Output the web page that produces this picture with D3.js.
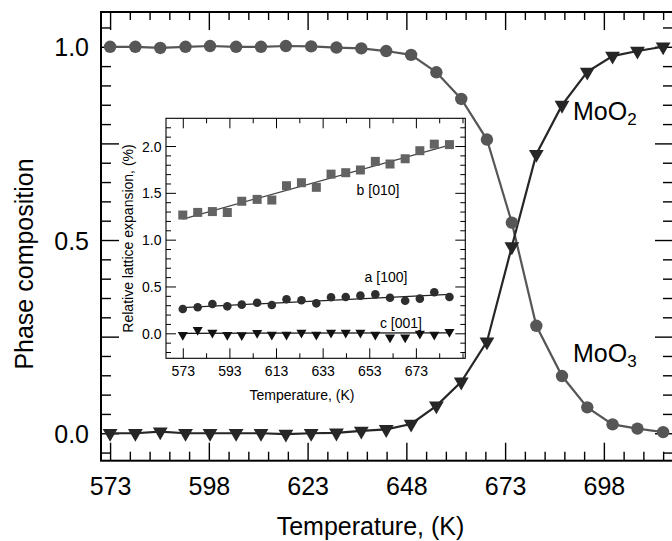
<!DOCTYPE html>
<html>
<head>
<meta charset="utf-8">
<script src="https://cdn.jsdelivr.net/npm/d3@7"></script>
<style>
  html, body { margin: 0; padding: 0; background: #fff; }
  svg { display: block; font-family: "Liberation Sans", Arial, Helvetica, sans-serif; }
</style>
</head>
<body>
<svg id="chart" width="672" height="541"></svg>
<script>
// ---------- data ----------
const temps = [573.0, 579.4, 585.7, 592.1, 598.3, 604.9, 611.2, 617.5, 623.9, 630.3, 636.6, 642.9,
               649.2, 655.6, 661.9, 668.4, 674.7, 680.9, 687.4, 693.8, 700.2, 706.5, 713.0];
const moo3 = [1.0, 1.0, 0.997, 1.0, 1.002, 1.0, 1.0, 1.002, 1.001, 0.998, 0.996, 0.989,
              0.979, 0.934, 0.865, 0.760, 0.545, 0.278, 0.148, 0.067, 0.023, 0.012, 0.003];
const moo2 = [0.0, 0.0, 0.004, 0.0, 0.0, 0.0, 0.0, -0.002, 0.0, 0.001, 0.006, 0.010,
              0.024, 0.071, 0.133, 0.237, 0.483, 0.722, 0.849, 0.935, 0.976, 0.989, 1.0];

const insetTemps = [573.0, 579.4, 585.7, 592.1, 598.3, 604.9, 611.2, 617.5, 623.9, 630.3,
                    636.6, 642.9, 649.2, 655.6, 661.9, 668.4, 674.7, 680.9, 687.4];
const bExp = [1.263, 1.291, 1.300, 1.290, 1.410, 1.430, 1.423, 1.576, 1.608, 1.559,
              1.700, 1.715, 1.744, 1.836, 1.808, 1.864, 1.950, 2.020, 2.015];
const aExp = [0.260, 0.278, 0.313, 0.288, 0.306, 0.327, 0.302, 0.363, 0.353, 0.320,
              0.385, 0.388, 0.402, 0.416, 0.380, 0.348, 0.370, 0.438, 0.388];
const cExp = [-0.018, 0.036, 0.007, -0.018, -0.021, 0.004, -0.014, -0.014, 0.007, -0.014,
              0.007, 0.007, 0.007, -0.014, -0.043, -0.043, -0.004, -0.014, 0.014];
const fitT = [573.0, 687.4];
const bFit = [1.22, 2.01];
const aFit = [0.275, 0.415];
const cFit = [0.0, 0.005];

const mainXTicks = [573, 598, 623, 648, 673, 698];
const mainYLabels = [0.0, 0.5, 1.0];
const insetXTicks = [573, 593, 613, 633, 653, 673];
const insetYTicks = [0.0, 0.5, 1.0, 1.5, 2.0];

// ---------- layout ----------
const svg = d3.select("#chart");
const M = { left: 101, right: 673, top: 12, bottom: 460.7 };
const x = d3.scaleLinear().domain([570.7, 715.5]).range([M.left, M.right]);
const y = d3.scaleLinear().domain([-0.071, 1.09]).range([M.bottom, M.top]);

const FS = 25;
const axisCol = "#000";

function range(a, b, s) { const r = []; for (let v = a; v <= b + 1e-9; v += s) r.push(+v.toFixed(4)); return r; }

const xMinor = range(573, 713, 5).filter(v => !mainXTicks.includes(v));
const yMajor = [0, 0.25, 0.5, 0.75, 1.0];
const yMinor = range(-0.05, 1.05, 0.05).filter(v => !yMajor.some(m => Math.abs(m - v) < 1e-6));

function styleAxis(g) {
  g.select(".domain").remove();
  g.selectAll(".tick line").attr("stroke", axisCol).attr("stroke-width", 1.4);
  g.selectAll("text").attr("fill", "#000");
}

const gb = svg.append("g").attr("transform", `translate(0,${M.bottom})`)
  .call(d3.axisBottom(x).tickValues(mainXTicks).tickSize(-18).tickFormat(d3.format("d")));
styleAxis(gb);
gb.selectAll("text").attr("y", 34.3).attr("dy", 0).attr("font-size", FS);
styleAxis(svg.append("g").attr("transform", `translate(0,${M.bottom})`)
  .call(d3.axisBottom(x).tickValues(xMinor).tickSize(-9).tickFormat("")));

styleAxis(svg.append("g").attr("transform", `translate(0,${M.top})`)
  .call(d3.axisTop(x).tickValues(mainXTicks).tickSize(-18).tickFormat("")));
styleAxis(svg.append("g").attr("transform", `translate(0,${M.top})`)
  .call(d3.axisTop(x).tickValues(xMinor).tickSize(-8).tickFormat("")));

const gl = svg.append("g").attr("transform", `translate(${M.left},0)`)
  .call(d3.axisLeft(y).tickValues(yMajor).tickSize(-18).tickPadding(12)
    .tickFormat(d => mainYLabels.includes(d) ? d3.format(".1f")(d) : ""));
styleAxis(gl);
gl.selectAll("text").attr("font-size", FS).attr("dy", "0.36em");
styleAxis(svg.append("g").attr("transform", `translate(${M.left},0)`)
  .call(d3.axisLeft(y).tickValues(yMinor).tickSize(-10).tickFormat("")));

styleAxis(svg.append("g").attr("transform", `translate(${M.right},0)`)
  .call(d3.axisRight(y).tickValues(yMajor).tickSize(-18).tickFormat("")));
styleAxis(svg.append("g").attr("transform", `translate(${M.right},0)`)
  .call(d3.axisRight(y).tickValues(yMinor).tickSize(-10).tickFormat("")));

svg.append("rect").attr("x", M.left).attr("y", M.top)
  .attr("width", M.right - M.left).attr("height", M.bottom - M.top)
  .attr("fill", "none").attr("stroke", "#000").attr("stroke-width", 2);

svg.append("text").attr("x", 370.5).attr("y", 535).attr("text-anchor", "middle")
  .attr("font-size", FS).text("Temperature, (K)");
svg.append("text").attr("transform", "translate(32.5,264) rotate(-90)")
  .attr("text-anchor", "middle").attr("font-size", FS).text("Phase composition");

// ---------- main series ----------
const line = d3.line().x(d => x(d[0])).y(d => y(d[1]));
const s3 = temps.map((t, i) => [t, moo3[i]]);
const s2 = temps.map((t, i) => [t, moo2[i]]);

svg.append("path").datum(s3).attr("d", line).attr("fill", "none")
  .attr("stroke", "#565656").attr("stroke-width", 2.2);
svg.append("path").datum(s2).attr("d", line).attr("fill", "none")
  .attr("stroke", "#262626").attr("stroke-width", 2.2);

svg.append("g").selectAll("circle").data(s3).join("circle")
  .attr("cx", d => x(d[0])).attr("cy", d => y(d[1])).attr("r", 6.2).attr("fill", "#565656");

const triMain = d3.symbol().type(d3.symbolTriangle).size(95);
svg.append("g").selectAll("path").data(s2).join("path")
  .attr("d", triMain)
  .attr("transform", d => `translate(${x(d[0])},${y(d[1])}) rotate(180)`)
  .attr("fill", "#262626");

const l2 = svg.append("text").attr("x", 573).attr("y", 120).attr("font-size", FS);
l2.append("tspan").text("MoO");
l2.append("tspan").attr("font-size", 17).attr("dy", 5).text("2");
const l3 = svg.append("text").attr("x", 573).attr("y", 361.7).attr("font-size", FS);
l3.append("tspan").text("MoO");
l3.append("tspan").attr("font-size", 17).attr("dy", 5).text("3");

// ---------- inset ----------
const I = { left: 166, right: 465.3, top: 118.3, bottom: 358.3 };
const xi = d3.scaleLinear().domain([565.8, 694.2]).range([I.left, I.right]);
const yi = d3.scaleLinear().domain([-0.267, 2.296]).range([I.bottom, I.top]);
const IFS = 14;

svg.append("rect").attr("x", I.left).attr("y", I.top)
  .attr("width", I.right - I.left).attr("height", I.bottom - I.top)
  .attr("fill", "#fff");

const xiMinor = range(563, 693, 10).filter(v => !insetXTicks.includes(v) && v > 565.8 && v < 694.2);
const yiMinor = range(-0.2, 2.2, 0.1).filter(v => !insetYTicks.some(m => Math.abs(m - v) < 1e-6));

function styleInset(g) {
  g.select(".domain").remove();
  g.selectAll(".tick line").attr("stroke", "#000").attr("stroke-width", 1);
  g.selectAll("text").attr("fill", "#000").attr("font-size", IFS);
}

const ib = svg.append("g").attr("transform", `translate(0,${I.bottom})`)
  .call(d3.axisBottom(xi).tickValues(insetXTicks).tickSize(-10).tickFormat(d3.format("d")));
styleInset(ib);
ib.selectAll("text").attr("y", 17.7).attr("dy", 0);
styleInset(svg.append("g").attr("transform", `translate(0,${I.bottom})`)
  .call(d3.axisBottom(xi).tickValues(xiMinor).tickSize(-5).tickFormat("")));
styleInset(svg.append("g").attr("transform", `translate(0,${I.top})`)
  .call(d3.axisTop(xi).tickValues(insetXTicks).tickSize(-10).tickFormat("")));
styleInset(svg.append("g").attr("transform", `translate(0,${I.top})`)
  .call(d3.axisTop(xi).tickValues(xiMinor).tickSize(-5).tickFormat("")));

const il = svg.append("g").attr("transform", `translate(${I.left},0)`)
  .call(d3.axisLeft(yi).tickValues(insetYTicks).tickSize(-10).tickPadding(4.5).tickFormat(d3.format(".1f")));
styleInset(il);
il.selectAll("text").attr("dy", "0.36em");
styleInset(svg.append("g").attr("transform", `translate(${I.left},0)`)
  .call(d3.axisLeft(yi).tickValues(yiMinor).tickSize(-5).tickFormat("")));
styleInset(svg.append("g").attr("transform", `translate(${I.right},0)`)
  .call(d3.axisRight(yi).tickValues(insetYTicks).tickSize(-10).tickFormat("")));
styleInset(svg.append("g").attr("transform", `translate(${I.right},0)`)
  .call(d3.axisRight(yi).tickValues(yiMinor).tickSize(-5).tickFormat("")));

svg.append("rect").attr("x", I.left).attr("y", I.top)
  .attr("width", I.right - I.left).attr("height", I.bottom - I.top)
  .attr("fill", "none").attr("stroke", "#000").attr("stroke-width", 1.1);

svg.append("text").attr("x", 302).attr("y", 399.5).attr("text-anchor", "middle")
  .attr("font-size", IFS).text("Temperature, (K)");
svg.append("text").attr("transform", "translate(133,238.5) rotate(-90)")
  .attr("text-anchor", "middle").attr("font-size", IFS).text("Relative lattice expansion, (%)");

const lineI = d3.line().x(d => xi(d[0])).y(d => yi(d[1]));
[[bFit, "#444"], [aFit, "#222"], [cFit, "#111"]].forEach(([f, c]) => {
  svg.append("path").datum(fitT.map((t, i) => [t, f[i]])).attr("d", lineI)
    .attr("fill", "none").attr("stroke", c).attr("stroke-width", 1.2);
});

const bPts = insetTemps.map((t, i) => [t, bExp[i]]);
const aPts = insetTemps.map((t, i) => [t, aExp[i]]);
const cPts = insetTemps.map((t, i) => [t, cExp[i]]);

svg.append("g").selectAll("rect").data(bPts).join("rect")
  .attr("x", d => xi(d[0]) - 4.5).attr("y", d => yi(d[1]) - 4.5)
  .attr("width", 9).attr("height", 9).attr("fill", "#636363");
svg.append("g").selectAll("circle").data(aPts).join("circle")
  .attr("cx", d => xi(d[0])).attr("cy", d => yi(d[1])).attr("r", 4.3).attr("fill", "#2e2e2e");
const triI = d3.symbol().type(d3.symbolTriangle).size(44);
svg.append("g").selectAll("path").data(cPts).join("path")
  .attr("d", triI)
  .attr("transform", d => `translate(${xi(d[0])},${yi(d[1])}) rotate(180)`)
  .attr("fill", "#111");

svg.append("text").attr("x", 378).attr("y", 195).attr("text-anchor", "middle")
  .attr("font-size", IFS).text("b [010]");
svg.append("text").attr("x", 386).attr("y", 282).attr("text-anchor", "middle")
  .attr("font-size", IFS).text("a [100]");
svg.append("text").attr("x", 401).attr("y", 327.5).attr("text-anchor", "middle")
  .attr("font-size", IFS).text("c [001]");
</script>
</body>
</html>
